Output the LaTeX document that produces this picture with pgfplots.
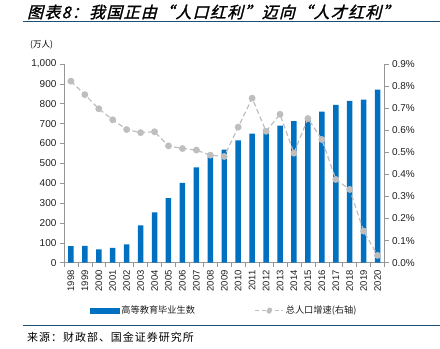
\documentclass[border=0pt]{standalone}
\usepackage{pgfplots}
\pgfplotsset{compat=1.18}
\usepackage{fontspec}
\setmainfont{Liberation Sans}
\newfontfamily\cjk{Noto Sans CJK SC}
\newfontfamily\cjksrc[LetterSpace=9]{Noto Sans CJK SC}
\newfontfamily\cjktitle[FakeSlant=0.25,FakeBold=1.5,LetterSpace=8]{Noto Sans CJK SC}
\definecolor{barblue}{RGB}{0,112,192}
\definecolor{linegray}{RGB}{190,190,190}
\definecolor{axgray}{RGB}{150,150,150}
\definecolor{ruleblue}{RGB}{31,78,121}
\definecolor{txt}{RGB}{30,30,30}
\begin{document}
\begin{tikzpicture}[x=1pt,y=1pt]
\path (0,0) rectangle (440,349);
\node[anchor=west, inner sep=0pt, font=\cjktitle\fontsize{16}{16}\selectfont] at (27,337) {图表8：我国正由“人口红利”迈向“人才红利”};
\draw[ruleblue, line width=1pt] (23,327) -- (440,327);
\node[anchor=west, inner sep=0pt, font=\cjk\fontsize{8.5}{9}\selectfont] at (30,304) {(万人)};
\draw[ruleblue, line width=1pt] (23,23) -- (440,23);
\node[anchor=west, inner sep=0pt, font=\cjksrc\fontsize{11}{11}\selectfont] at (27,11) {来源：财政部、国金证券研究所};

\begin{axis}[at={(64pt,86pt)}, anchor=south west, scale only axis,
  width=321pt, height=199pt,
  xmin=1997.5, xmax=2020.5, ymin=0, ymax=1000,
  axis x line*=bottom, axis y line*=left,
  axis line style={axgray, line width=0.8pt},
  tick align=outside, major tick length=4pt, minor tick length=4pt,
  tick style={axgray, line width=0.6pt},
  xtick={1998,1999,...,2020},
  major x tick style={draw=none},
  minor xtick={1997.5,1998.5,...,2020.5},
  ytick={0,100,...,1000},
  /pgf/number format/assume math mode=true,
  /pgf/number format/1000 sep={,},
  xticklabel style={rotate=90, anchor=east, font=\fontsize{9.5}{10}\selectfont, text=txt, /pgf/number format/1000 sep={}},
  yticklabel style={font=\fontsize{10}{10}\selectfont, text=txt},
  clip=false,
]
\addplot[ybar, bar width=5.5pt, fill=barblue, draw=none] coordinates {
(1998,83) (1999,85) (2000,67) (2001,75) (2002,92) (2003,188) (2004,253) (2005,325)
(2006,402) (2007,479) (2008,532) (2009,569) (2010,615) (2011,650) (2012,673)
(2013,690) (2014,712) (2015,729) (2016,760) (2017,794) (2018,814) (2019,821) (2020,871)};
\end{axis}

\begin{axis}[at={(64pt,86pt)}, anchor=south west, scale only axis,
  width=321pt, height=199pt,
  xmin=1997.5, xmax=2020.5, ymin=0, ymax=0.9,
  axis x line=none, axis y line*=right,
  axis line style={axgray, line width=0.8pt},
  tick align=outside, major tick length=4pt,
  tick style={axgray, line width=0.6pt},
  ytick={0,0.1,...,0.9},
  /pgf/number format/assume math mode=true,
  yticklabel={\pgfmathprintnumber[fixed,fixed zerofill,precision=1]{\tick}\%},
  yticklabel style={font=\fontsize{10}{10}\selectfont, text=txt},
  clip=false,
  legend style={at={(0.5,-0.241)}, anchor=center, draw=none, fill=none,
    font=\cjk\fontsize{9.2}{10}\selectfont, text=txt},
  legend columns=2,
  legend cell align=left,
  /tikz/every even column/.append style={column sep=58pt},
]
\addlegendimage{legend image code/.code={\fill[barblue] (0pt,-2.5pt) rectangle (29pt,2.5pt);}}
\addlegendentry{高等教育毕业生数}
\addplot[linegray, line width=1.2pt, dash pattern=on 5pt off 3pt, mark=*, mark size=2.8pt,
  mark options={solid, fill=linegray, draw=linegray},
  legend image code/.code={\draw[linegray, line width=1pt, dash pattern=on 4pt off 2.5pt] (0pt,0pt) -- (28pt,0pt); \fill[linegray] (14pt,0pt) circle (2.5pt);}]
coordinates {
(1998,0.822) (1999,0.761) (2000,0.697) (2001,0.647) (2002,0.603) (2003,0.589) (2004,0.593)
(2005,0.529) (2006,0.517) (2007,0.510) (2008,0.487) (2009,0.481) (2010,0.614) (2011,0.745)
(2012,0.595) (2013,0.672) (2014,0.496) (2015,0.653) (2016,0.558) (2017,0.377) (2018,0.332)
(2019,0.143) (2020,0.033)};
\addlegendentry{总人口增速(右轴)}
\end{axis}
\end{tikzpicture}
\end{document}
